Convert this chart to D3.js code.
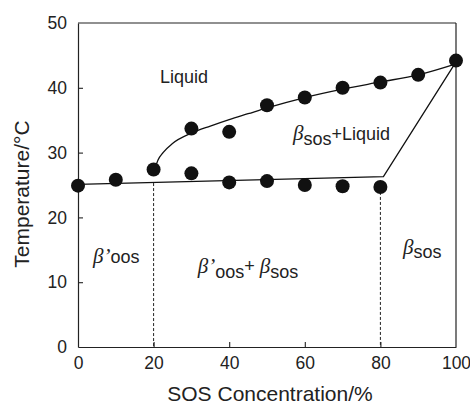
<!DOCTYPE html>
<html>
<head>
<meta charset="utf-8">
<script src="https://cdn.jsdelivr.net/npm/d3@7"></script>
<style>
  html, body { margin: 0; padding: 0; background: #fff; }
  svg { display: block; }
  .tick text { font-family: "Liberation Sans", Arial, sans-serif; font-size: 17.5px; fill: #222; }
  .lbl { font-family: "Liberation Sans", Arial, sans-serif; font-size: 18px; fill: #222; }
  .beta { font-family: "Liberation Serif", "DejaVu Serif", serif; font-style: italic; font-size: 21px; }
</style>
</head>
<body>
<svg id="chart" width="470" height="405"></svg>
<script>
// Binary phase diagram of OOS/SOS mixtures
const concentrationTicks = [0, 20, 40, 60, 80, 100];
const temperatureTicks = [0, 10, 20, 30, 40, 50];

// Measured liquidus (melting) points
const liquidusConc = [20, 30, 40, 50, 60, 70, 80, 90, 100];
const liquidusTemp = [27.4, 33.7, 33.2, 37.3, 38.5, 40.0, 40.8, 42.0, 44.2];

// Measured solidus points (0% is shared by both boundaries)
const solidusConc = [0, 10, 30, 40, 50, 60, 70, 80];
const solidusTemp = [24.9, 25.8, 26.8, 25.4, 25.6, 25.0, 24.8, 24.7];

// Fitted liquidus curve
const liquidusFitConc = [20.4, 21.2, 22.5, 25, 30, 35, 40, 45, 50, 60, 70, 80, 90, 100];
const liquidusFitTemp = [27.6, 28.9, 30.0, 31.4, 33.0, 34.1, 35.1, 36.0, 36.9, 38.5, 39.8, 40.9, 42.0, 43.7];

// Solidus boundary
const solidusFitConc = [0, 80.8, 100];
const solidusFitTemp = [25.1, 26.3, 44.0];

// Vertical phase-boundary guides
const guideConc = [20, 80];
const guideTop = [25.3, 24.7];

const svg = d3.select("#chart");
const x = d3.scaleLinear().domain([0, 100]).range([78, 456]);
const y = d3.scaleLinear().domain([0, 50]).range([347, 23]);

// Frame
const frame = svg.append("g").attr("stroke", "#222").attr("stroke-width", 1.2).attr("fill", "none");
frame.append("line").attr("x1", x(0)).attr("x2", x(100)).attr("y1", y(50)).attr("y2", y(50));
frame.append("line").attr("x1", x(100)).attr("x2", x(100)).attr("y1", y(50)).attr("y2", y(0));

// Axes with inward ticks
const xAxis = svg.append("g").attr("transform", `translate(0,${y(0)})`)
  .call(d3.axisBottom(x).tickValues(concentrationTicks).tickSizeInner(-5).tickSizeOuter(0).tickPadding(10));
const yAxis = svg.append("g").attr("transform", `translate(${x(0)},0)`)
  .call(d3.axisLeft(y).tickValues(temperatureTicks).tickSizeInner(-5).tickSizeOuter(0).tickPadding(11));
[xAxis, yAxis].forEach(a => {
  a.select(".domain").attr("stroke", "#222").attr("stroke-width", 1.2);
  a.selectAll(".tick line").attr("stroke", "#222").attr("stroke-width", 1.1);
});
xAxis.selectAll(".tick line").filter(d => d === 0 || d === 100).remove();
yAxis.selectAll(".tick line").filter(d => d === 0 || d === 50).remove();

// Axis titles
svg.append("text").attr("class", "lbl").attr("x", 270).attr("y", 401)
  .attr("text-anchor", "middle").style("font-size", "21px").text("SOS Concentration/%");
svg.append("text").attr("class", "lbl")
  .attr("transform", `translate(29,${y(23.6)}) rotate(-90)`)
  .attr("text-anchor", "middle").style("font-size", "21px").text("Temperature/°C");

// Dashed guides
svg.append("g").selectAll("line").data(guideConc).join("line")
  .attr("x1", d => x(d)).attr("x2", d => x(d))
  .attr("y1", (d, i) => y(guideTop[i])).attr("y2", y(0))
  .attr("stroke", "#222").attr("stroke-width", 1).attr("stroke-dasharray", "3,2");

// Boundary lines
const line = d3.line().x(d => x(d[0])).y(d => y(d[1]));
svg.append("path")
  .datum(liquidusFitConc.map((c, i) => [c, liquidusFitTemp[i]]))
  .attr("d", line.curve(d3.curveMonotoneX))
  .attr("fill", "none").attr("stroke", "#111").attr("stroke-width", 1.3);
svg.append("path")
  .datum(solidusFitConc.map((c, i) => [c, solidusFitTemp[i]]))
  .attr("d", d3.line().x(d => x(d[0])).y(d => y(d[1])))
  .attr("fill", "none").attr("stroke", "#111").attr("stroke-width", 1.3);

// Points
const pts = liquidusConc.map((c, i) => [c, liquidusTemp[i]])
  .concat(solidusConc.map((c, i) => [c, solidusTemp[i]]));
svg.append("g").selectAll("circle").data(pts).join("circle")
  .attr("cx", d => x(d[0])).attr("cy", d => y(d[1])).attr("r", 7).attr("fill", "#111");

// Region labels: [concentration, temperature] anchor, then text runs
function region(c, t, runs) {
  const txt = svg.append("text").attr("class", "lbl").attr("x", x(c)).attr("y", y(t));
  runs.forEach(r => {
    const ts = txt.append("tspan").text(r.s);
    if (r.beta) ts.attr("class", "beta");
    if (r.dy) ts.attr("dy", r.dy);
  });
}
region(21.7, 40.7, [{ s: "Liquid" }]);
region(56.9, 31.9, [{ s: "β", beta: true }, { s: "sos", dy: 5 }, { s: "+Liquid", dy: -5 }]);
region(4.0, 13.0, [{ s: "β’", beta: true }, { s: "oos" }]);
region(31.7, 11.4, [{ s: "β’", beta: true }, { s: "oos", dy: 5 }, { s: "+ ", dy: -6 }, { s: "β", beta: true, dy: 1 }, { s: "sos", dy: 5 }]);
region(86.0, 14.4, [{ s: "β", beta: true }, { s: "sos", dy: 4 }]);
</script>
</body>
</html>
